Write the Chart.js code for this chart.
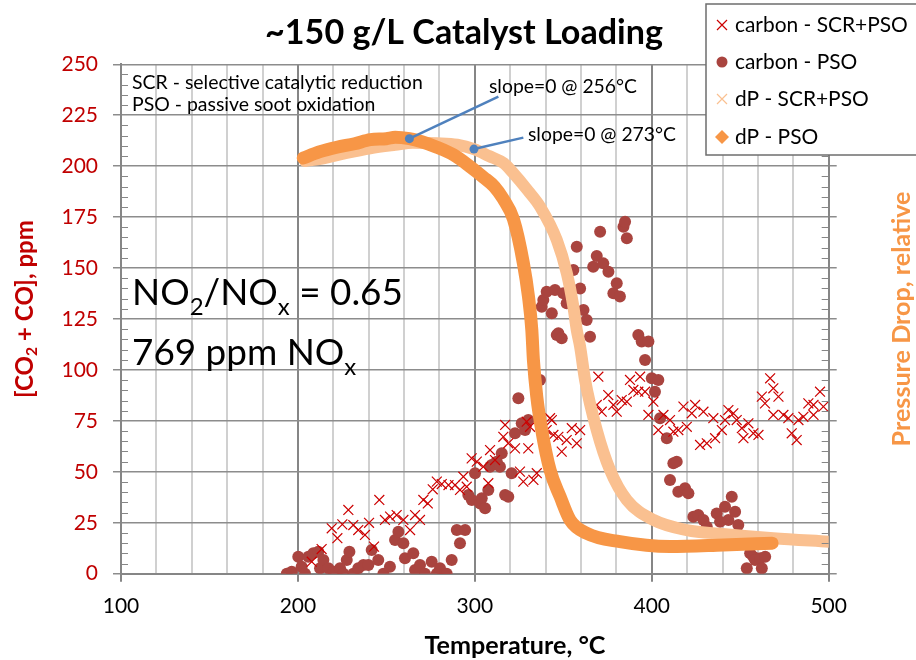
<!DOCTYPE html>
<html>
<head>
<meta charset="utf-8">
<script src="https://cdn.jsdelivr.net/npm/chart.js@4"></script>
<style>
  body { margin: 0; background: #fff; }
  canvas { display: block; }
</style>
</head>
<body>
<canvas id="chart" width="916" height="660"></canvas>
<script>
// series names
const seriesNames = ['carbon - SCR+PSO', 'carbon - PSO', 'dP - SCR+PSO', 'dP - PSO']

// axis ticks
const tempTicks = [100, 200, 300, 400, 500]
const ppmTicks = [0, 25, 50, 75, 100, 125, 150, 175, 200, 225, 250]

// carbon - SCR+PSO  (temperature, ppm)
const carbonScrT = [207.8,213.4,219.1,222.3,225.1,228.5,231.3,234.1,237.9,240.2,243,246,249.2,252.1,255.8,259.6,263.4,266.2,269,270.9,273.4,276.2,278.5,281.3,285.1,288.8,291.6,293.5,295.4,298.2,301.1,304.8,307.6,308.6,311.4,316.1,317.1,318.9,322.7,325.5,327.4,329.3,330.2,331.2,333.1,335,340.6,342.5,343.5,344.4,347.2,349.1,351.9,354.8,357.6,359.5,368.9,369.8,371.7,375.4,378.3,380.2,383,385.9,387.7,389.6,392.4,393.4,396.2,398.1,400.9,403.7,406.6,410.3,412.2,415,417.9,419.8,422.6,424.5,427.3,429.2,431.1,434.8,435.8,439.6,441.4,443.3,446.1,448,450.9,451.8,454.6,457.4,460.3,462.2,464,466.9,468.7,468.7,471.6,474.4,477.2,479.1,481.9,482.9,485.7,488.5,491.4,491.4,495.1,497]
const carbonScrV = [5.9,12.1,22.3,17.4,24.2,31.3,23.9,21.4,19,25,13.3,36.2,26.4,28,28.8,26.4,21.4,28.8,26.4,36.2,34.5,41.4,45.2,44,43.5,43.5,41.1,47.6,42.7,56.6,55,52.5,44.4,60.7,55.8,67.2,73,64,61.5,50.1,45.2,74.6,61.5,72.1,46,49.3,70.5,76.3,75.4,68.1,67.2,59.9,65.6,71.4,64,70.5,82.8,96.7,79.5,87.7,82.8,79.5,85.2,84.4,95.1,90.2,89.3,96.7,89.3,77.9,84.4,70.5,77.9,75.4,69.7,70.5,82,72.1,78.7,82.8,63.2,79.5,64,76.3,66.5,70.5,75.4,80.3,78.7,75.4,71.4,66.5,73.8,68.9,68.1,86.9,83.6,95.9,91,77.9,86.9,77.9,76.3,68.9,65.6,75.4,77,83.6,82.8,77.9,89.3,82]

// carbon - PSO
const carbonPsoT = [193.7,196.5,200.2,202.1,204,205.9,208.7,211.5,212.5,214.4,217.2,220.1,223.8,225.7,227.6,229.1,231.3,234.1,237,239.8,241.7,245.4,248.3,252,254.9,256.8,259.6,260.5,265.2,266.2,269,271.8,275.6,278.5,280.3,283.2,284.1,286.9,289.8,291.6,294.5,296.3,298.3,300.1,303,303.9,305.8,307.6,308.6,309.5,311.4,312.4,314.2,315.2,317.1,318.9,320.8,322.7,324.6,326.5,328.4,330.2,336.8,337.8,338.7,340.6,343.5,345.3,346.3,347.2,349.1,350,351.9,355.7,357.6,359.5,361.4,363.2,365.1,366.9,368.9,370.8,372.6,375.5,378.3,380.2,382,384,384.9,385.9,392.4,394.3,396.2,398.1,400,401.8,403.7,404.7,408.5,410.3,412.2,414.1,415,418.8,420.7,423.5,426.3,429.2,431.1,436.7,438.6,441.4,443.3,445.2,447.1,448.9,451.8,453.7,455.6,457.4,458.4,461.3,462.2,464.1]
const carbonPsoV = [0,1,8.3,3.4,0,8.3,10,10.8,2.7,6.7,2.7,1,2.7,0,6.7,10.8,0,2.7,4.3,4.3,11.6,6.7,0,3.4,16.5,20.6,14.9,7.6,10,1.8,4.3,0,5.9,0,2.7,0,0,6.7,21.4,14.9,21.4,38.6,36.2,49.3,34.5,37,32.1,41.1,52.5,53.3,54.2,55,52.5,59.1,38.6,37.8,49.3,68.9,86.1,73.8,70.5,75.4,95.1,131,134.3,138.4,127.8,139.2,117.1,118,115.5,137.6,132.7,149,160.5,140,129.4,124.5,116.3,150.7,155.9,167.8,152.3,148.2,137.6,142.5,136,170.3,172.7,164.6,117.1,113.9,104.9,113.9,95.9,89.3,95.1,76.3,66.5,46,54.2,55,40.2,41.9,39.5,28,28.8,26.4,23.1,29.6,25.5,32.9,26.4,37.8,30.4,23.9,17.4,2.7,10,8.3,6.7,7.6,2.7,8.3]

// dP - SCR+PSO (relative)
const dpScrT = [204,215,225,240.8,255,265,278.5,290,299.5,308,316.4,321.8,330,336.9,346.3,352,355.7,357.6,359.5,362.3,368.9,376.4,385.9,400.9,419.8,440,468.7,500]
const dpScrV = [202.5,204,206,208.8,210.5,211.5,211.2,210.5,208.4,205,201.4,196.5,188,180.1,163.8,147.4,131,119.6,111.4,95,70.5,50.9,36.2,26.4,21.4,19.5,17.4,15.7]

// dP - PSO (relative)
const dpPsoT = [203,212,222,232,241,250,255,263,270,278.5,288,297,305,311,316,321.8,327.4,330.3,332.2,333.1,335,337.8,342.5,348.2,353.8,363.2,382,410.3,440.5,468]
const dpPsoV = [204,207,209.3,211,213,213.5,214.2,213.5,212,209.3,205.5,200,194.5,190,184,174,152.5,136,119.6,104.9,86.9,70.5,50.9,37.8,26.4,19.8,15.7,13.3,14.1,15]

const RED = '#CC0000'
const DARKRED = '#A9443F'
const LIGHTOR = '#FAC090'
const ORANGE = '#F79646'
const AXIS = '#868686'
const FONT = 'Lato'

function pts(xs, ys) {
    var out = []
    for (i = 0; i < xs.length; i++) {
        out.push({x: xs[i], y: ys[i]})
    }
    return out
}

// width-fit helper for the annotation texts
function fitSize(ctx, text, weight, w) {
    ctx.font = weight + ' 100px ' + FONT
    return 100 * w / ctx.measureText(text).width
}

// draws text with subscript pieces, parts = [[text, isSub], ...]
function richWidth(ctx, parts, size, weight) {
    var w = 0
    parts.forEach(function (p) {
        ctx.font = weight + ' ' + (p[1] ? size * 0.65 : size) + 'px ' + FONT
        w += ctx.measureText(p[0]).width
    })
    return w
}
function drawRich(ctx, parts, x, y, size, weight) {
    parts.forEach(function (p) {
        ctx.font = weight + ' ' + (p[1] ? size * 0.65 : size) + 'px ' + FONT
        ctx.fillText(p[0], x, p[1] ? y + size * 0.27 : y)
        x += ctx.measureText(p[0]).width
    })
}
function fitRich(ctx, parts, weight, w) {
    return 100 * w / richWidth(ctx, parts, 100, weight)
}

const extras = {
    id: 'extras',
    afterDatasetsDraw(chart) {
        const ctx = chart.ctx
        const xs = chart.scales.x, ys = chart.scales.y, y2 = chart.scales.y2
        ctx.save()
        // minor ticks, inside
        ctx.strokeStyle = AXIS
        ctx.lineWidth = 1
        for (v = 5; v < 250; v += 5) {
            if (v % 25 === 0) continue
            var py = Math.round(ys.getPixelForValue(v)) + 0.5
            ctx.beginPath()
            ctx.moveTo(xs.left, py); ctx.lineTo(xs.left + 7, py)
            ctx.moveTo(xs.right, py); ctx.lineTo(xs.right - 7, py)
            ctx.stroke()
        }
        // slope=0 leaders
        ctx.strokeStyle = '#4F81BD'
        ctx.fillStyle = '#4F81BD'
        ctx.lineWidth = 2.5
        var leaders = [[263, 213.5, 313.3, 234.1], [299.5, 208.4, 327.4, 214]]
        leaders.forEach(function (l) {
            var ax = xs.getPixelForValue(l[0]), ay = y2.getPixelForValue(l[1])
            ctx.beginPath()
            ctx.moveTo(ax, ay)
            ctx.lineTo(xs.getPixelForValue(l[2]), y2.getPixelForValue(l[3]))
            ctx.stroke()
            ctx.beginPath()
            ctx.arc(ax, ay, 4.5, 0, Math.PI * 2)
            ctx.fill()
        })
        ctx.restore()
    },
    afterDraw(chart) {
        const ctx = chart.ctx
        ctx.save()
        ctx.textBaseline = 'middle'
        ctx.textAlign = 'left'

        // title
        ctx.fillStyle = '#000'
        var s = fitSize(ctx, '~150 g/L Catalyst Loading', 'bold', 398)
        ctx.font = 'bold ' + s + 'px ' + FONT
        ctx.textAlign = 'center'
        ctx.fillText('~150 g/L Catalyst Loading', 464, 33)

        // x title
        s = fitSize(ctx, 'Temperature, °C', 'bold', 181)
        ctx.font = 'bold ' + s + 'px ' + FONT
        ctx.fillText('Temperature, °C', 515, 646)

        // right title
        s = fitSize(ctx, 'Pressure Drop, relative', 'bold', 255)
        ctx.save()
        ctx.translate(902, 319)
        ctx.rotate(-Math.PI / 2)
        ctx.fillStyle = ORANGE
        ctx.font = 'bold ' + s + 'px ' + FONT
        ctx.fillText('Pressure Drop, relative', 0, 0)
        ctx.restore()

        // left title
        var lt = [['[CO', false], ['2', true], [' + CO], ppm', false]]
        s = fitRich(ctx, lt, 'bold', 178)
        ctx.save()
        ctx.translate(25, 309)
        ctx.rotate(-Math.PI / 2)
        ctx.fillStyle = '#C00000'
        ctx.textAlign = 'left'
        drawRich(ctx, lt, -richWidth(ctx, lt, s, 'bold') / 2, 0, s, 'bold')
        ctx.restore()

        // notes
        ctx.textAlign = 'left'
        ctx.fillStyle = '#000'
        s = fitSize(ctx, 'SCR - selective catalytic reduction', 'normal', 291)
        ctx.font = s + 'px ' + FONT
        ctx.fillText('SCR - selective catalytic reduction', 132, 83)
        ctx.fillText('PSO - passive soot oxidation', 132, 105)

        s = fitSize(ctx, 'slope=0 @ 256°C', 'normal', 148)
        ctx.font = s + 'px ' + FONT
        ctx.fillText('slope=0 @ 256°C', 489, 87)
        ctx.fillText('slope=0 @ 273°C', 528, 135)

        ctx.textBaseline = 'alphabetic'
        var no2 = [['NO', false], ['2', true], ['/NO', false], ['x', true], [' = 0.65', false]]
        s = fitRich(ctx, no2, 'normal', 271)
        drawRich(ctx, no2, 132, 305, s, 'normal')
        drawRich(ctx, [['769 ppm NO', false], ['x', true]], 132, 365, s, 'normal')

        // legend
        ctx.fillStyle = '#fff'
        ctx.strokeStyle = '#6e6e6e'
        ctx.lineWidth = 1.5
        ctx.fillRect(706, 4, 220, 151)
        ctx.strokeRect(706, 4, 220, 151)
        var ly = [25, 62, 99, 137]
        s = fitSize(ctx, seriesNames[0], 'normal', 173)
        ctx.textBaseline = 'middle'
        for (i = 0; i < 4; i++) {
            var mx = 722, my = ly[i]
            ctx.beginPath()
            if (i === 0 || i === 2) {
                ctx.strokeStyle = i === 0 ? RED : LIGHTOR
                ctx.lineWidth = 1.2
                ctx.moveTo(mx - 5, my - 5); ctx.lineTo(mx + 5, my + 5)
                ctx.moveTo(mx + 5, my - 5); ctx.lineTo(mx - 5, my + 5)
                ctx.stroke()
            } else if (i === 1) {
                ctx.fillStyle = DARKRED
                ctx.arc(mx, my, 5.5, 0, Math.PI * 2)
                ctx.fill()
            } else {
                ctx.fillStyle = ORANGE
                ctx.moveTo(mx, my - 7); ctx.lineTo(mx + 7, my); ctx.lineTo(mx, my + 7); ctx.lineTo(mx - 7, my)
                ctx.closePath()
                ctx.fill()
            }
            ctx.fillStyle = '#000'
            ctx.font = s + 'px ' + FONT
            ctx.fillText(seriesNames[i], 735, my)
        }
        ctx.restore()
    }
}

Chart.defaults.font.family = FONT

const ctx = document.getElementById('chart').getContext('2d')
const myChart = new Chart(ctx, {
    type: 'scatter',
    data: {
        datasets: [
            {
                label: seriesNames[3],
                data: pts(dpPsoT, dpPsoV),
                yAxisID: 'y2',
                showLine: true,
                borderColor: ORANGE,
                borderWidth: 13,
                borderCapStyle: 'round',
                borderJoinStyle: 'round',
                cubicInterpolationMode: 'monotone',
                pointRadius: 0,
                order: 1
            },
            {
                label: seriesNames[2],
                data: pts(dpScrT, dpScrV),
                yAxisID: 'y2',
                showLine: true,
                borderColor: LIGHTOR,
                borderWidth: 12,
                borderCapStyle: 'round',
                borderJoinStyle: 'round',
                cubicInterpolationMode: 'monotone',
                pointRadius: 0,
                order: 1
            },
            {
                label: seriesNames[0],
                data: pts(carbonScrT, carbonScrV),
                pointStyle: 'crossRot',
                pointRadius: 7,
                borderColor: RED,
                borderWidth: 1.2,
                order: 2
            },
            {
                label: seriesNames[1],
                data: pts(carbonPsoT, carbonPsoV),
                pointStyle: 'circle',
                pointRadius: 6,
                backgroundColor: DARKRED,
                borderColor: DARKRED,
                borderWidth: 0,
                order: 2
            }
        ]
    },
    options: {
        responsive: false,
        animation: false,
        layout: { padding: { top: 64.3, left: 0, right: 0, bottom: 0 } },
        plugins: {
            legend: { display: false },
            tooltip: { enabled: false }
        },
        scales: {
            x: {
                type: 'linear',
                min: tempTicks[0],
                max: tempTicks[tempTicks.length - 1],
                ticks: {
                    stepSize: 20,
                    autoSkip: false,
                    maxRotation: 0,
                    padding: 12,
                    color: '#000',
                    font: { size: 21 },
                    callback: function (v) { return tempTicks.includes(v) ? v : '' }
                },
                grid: {
                    lineWidth: 2,
                    tickLength: 8,
                    color: function (c) { return tempTicks.includes(c.tick.value) ? AXIS : '#d0d0d0' },
                    tickColor: function (c) { return tempTicks.includes(c.tick.value) ? AXIS : 'rgba(0,0,0,0)' }
                },
                border: { color: AXIS, width: 2 },
                afterFit: function (s) { s.height = 86.3 }
            },
            y: {
                position: 'left',
                min: ppmTicks[0],
                max: ppmTicks[ppmTicks.length - 1],
                ticks: {
                    stepSize: 25,
                    padding: 15,
                    color: '#C00000',
                    font: { size: 21 }
                },
                grid: { color: '#8c8c8c', lineWidth: 1.5, tickLength: 8 },
                border: { color: AXIS, width: 2 },
                afterFit: function (s) { s.width = 121 }
            },
            y2: {
                position: 'right',
                min: 0,
                max: 250,
                ticks: { stepSize: 25, display: false },
                grid: { drawOnChartArea: false, color: '#8c8c8c', lineWidth: 1.5, tickLength: 8 },
                border: { color: AXIS, width: 2 },
                afterFit: function (s) { s.width = 916 - 828.7 }
            }
        }
    },
    plugins: [extras]
});
</script>
</body>
</html>
